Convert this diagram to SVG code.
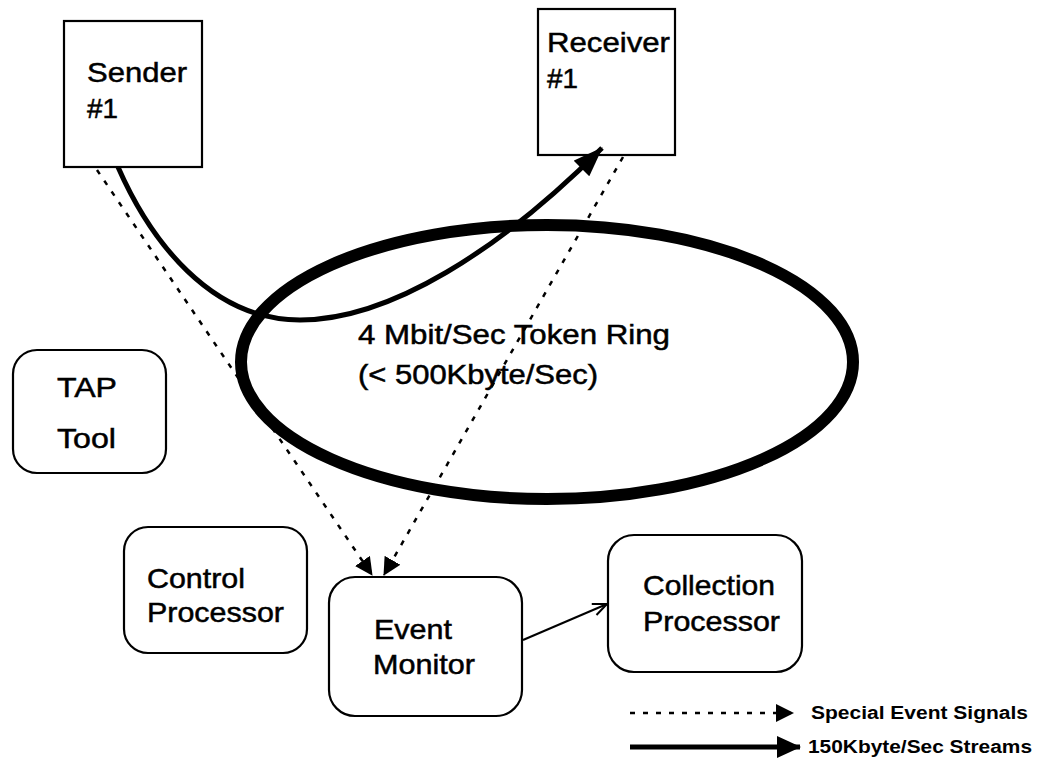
<svg xmlns="http://www.w3.org/2000/svg" width="1056" height="760" viewBox="0 0 1056 760">
<style>
.box{fill:#fff;stroke:#000;stroke-width:2.2}
.lbl{font-family:"Liberation Sans",Arial,sans-serif;font-size:28px;fill:#000;stroke:#000;stroke-width:0.5}
.ring{font-family:"Liberation Sans",Arial,sans-serif;font-size:27px;fill:#000;stroke:#000;stroke-width:0.5}
.leg{font-family:"Liberation Sans",Arial,sans-serif;font-size:18px;font-weight:bold;fill:#000}
.dot{fill:none;stroke:#000;stroke-width:2.5;stroke-dasharray:5 8}
.thick{fill:none;stroke:#000;stroke-width:5}
.thin{fill:none;stroke:#000;stroke-width:2}
</style>
<defs>
<marker id="bigArrow" markerUnits="userSpaceOnUse" viewBox="0 0 30 22" markerWidth="30" markerHeight="22" refX="29" refY="11" orient="auto"><path d="M0,0 L30,11 L0,22 Z" fill="#000"/></marker>
<marker id="legArrow" markerUnits="userSpaceOnUse" viewBox="0 0 24 22" markerWidth="24" markerHeight="22" refX="23" refY="11" orient="auto"><path d="M0,0 L24,11 L0,22 Z" fill="#000"/></marker>
<marker id="dotArrow" markerUnits="userSpaceOnUse" viewBox="0 0 18 18" markerWidth="18" markerHeight="18" refX="17" refY="9" orient="auto"><path d="M0,0 L18,9 L0,18 Z" fill="#000"/></marker>
<marker id="openArrow" markerUnits="userSpaceOnUse" viewBox="0 0 16 14" markerWidth="16" markerHeight="14" refX="15" refY="7" orient="auto"><path d="M1,1 L15,7 L1,13" fill="none" stroke="#000" stroke-width="2"/></marker>
</defs>
<rect width="1056" height="760" fill="#fff"/>

<g id="ring">
<ellipse cx="547" cy="362" rx="306" ry="137" fill="none" stroke="#000" stroke-width="12"/>
<text class="ring" x="358" y="344" textLength="312" lengthAdjust="spacingAndGlyphs">4 Mbit/Sec Token Ring</text>
<text class="ring" x="358" y="384" textLength="240" lengthAdjust="spacingAndGlyphs">(&lt; 500Kbyte/Sec)</text>
</g>

<g id="sender">
<rect class="box" x="64" y="21" width="138" height="146"/>
<text class="lbl" x="87" y="82" textLength="100" lengthAdjust="spacingAndGlyphs">Sender</text>
<text class="lbl" x="87" y="118" textLength="31" lengthAdjust="spacingAndGlyphs">#1</text>
</g>

<g id="receiver">
<rect class="box" x="538" y="9" width="137" height="146"/>
<text class="lbl" x="547" y="52" textLength="123" lengthAdjust="spacingAndGlyphs">Receiver</text>
<text class="lbl" x="547" y="88" textLength="31" lengthAdjust="spacingAndGlyphs">#1</text>
</g>

<g id="tap">
<rect class="box" x="13" y="350" width="153" height="123" rx="24"/>
<text class="lbl" x="57" y="397" textLength="60" lengthAdjust="spacingAndGlyphs">TAP</text>
<text class="lbl" x="57" y="448" textLength="59" lengthAdjust="spacingAndGlyphs">Tool</text>
</g>

<g id="control">
<rect class="box" x="124" y="527" width="183" height="126" rx="24"/>
<text class="lbl" x="147" y="588" textLength="98" lengthAdjust="spacingAndGlyphs">Control</text>
<text class="lbl" x="147" y="622" textLength="137" lengthAdjust="spacingAndGlyphs">Processor</text>
</g>

<g id="monitor">
<rect class="box" x="329" y="577" width="193" height="139" rx="26"/>
<text class="lbl" x="374" y="639" textLength="78" lengthAdjust="spacingAndGlyphs">Event</text>
<text class="lbl" x="373" y="674" textLength="102" lengthAdjust="spacingAndGlyphs">Monitor</text>
</g>

<g id="collection">
<rect class="box" x="608" y="535" width="194" height="137" rx="26"/>
<text class="lbl" x="643" y="595" textLength="132" lengthAdjust="spacingAndGlyphs">Collection</text>
<text class="lbl" x="643" y="631" textLength="137" lengthAdjust="spacingAndGlyphs">Processor</text>
</g>

<g id="connectors">
<path class="thick" d="M118,167 C150,240 210,320 300,320 C390,320 500,250 602,148" marker-end="url(#bigArrow)"/>
<line class="dot" x1="97" y1="170" x2="372" y2="575" marker-end="url(#dotArrow)"/>
<line class="dot" x1="623" y1="157" x2="384" y2="575" marker-end="url(#dotArrow)"/>
<line class="thin" x1="523" y1="640" x2="607" y2="604" marker-end="url(#openArrow)"/>
</g>

<g id="legend">
<line class="dot" x1="630" y1="713" x2="793" y2="713" stroke-dasharray="7 13.5" marker-end="url(#dotArrow)"/>
<text class="leg" x="811" y="719" textLength="217" lengthAdjust="spacingAndGlyphs">Special Event Signals</text>
<line class="thick" x1="630" y1="747" x2="800" y2="747" marker-end="url(#legArrow)"/>
<text class="leg" x="808" y="753" textLength="224" lengthAdjust="spacingAndGlyphs">150Kbyte/Sec Streams</text>
</g>
</svg>
